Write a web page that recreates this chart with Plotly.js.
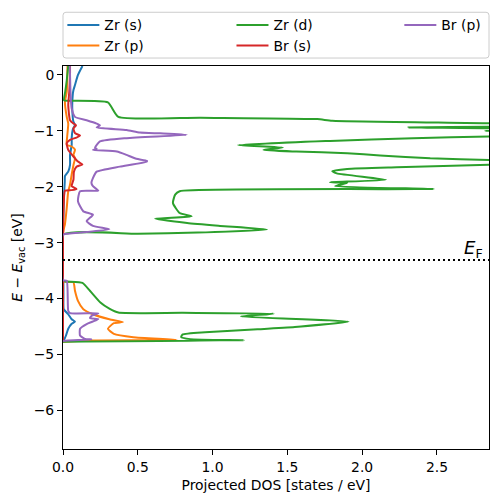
<!DOCTYPE html>
<html>
<head>
<meta charset="utf-8">
<script src="https://cdn.plot.ly/plotly-3.0.1.min.js"></script>
<style>html,body{margin:0;padding:0;background:#fff;}#chart{width:498px;height:502px;}</style>
</head>
<body>
<div id="chart"></div>
<script>
// ---- data (energy in eV relative to vacuum, DOS in states/eV) ----
const seriesNames = ["Zr (s)", "Zr (p)", "Zr (d)", "Br (s)", "Br (p)"];
const seriesColors = ["#1f77b4", "#ff7f0e", "#2ca02c", "#d62728", "#9467bd"];
const legendIds = ["legend", "legend2", "legend3", "legend4", "legend5"];
const fermiLevel = -3.31;

// Zr (s)
const zrS_E   = [-4.77, -4.75, -4.66, -4.54, -4.45, -4.41, -4.37, -4.28, -4.19, -4.0, -3.8, -3.68, -3.66,
                 -2.86, -2.5, -2.2, -1.9, -1.81, -1.73, -1.61, -1.43, -1.25, -1.13, -0.98, -0.89, -0.84, -0.6, -0.36, -0.27, -0.18, 0.0, 0.16];
const zrS_dos = [0.0, 0.005, 0.02, 0.035, 0.058, 0.08, 0.058, 0.035, 0.005, 0.003, 0.003, 0.002, 0.0,
                 0.0, 0.003, 0.006, 0.012, 0.013, 0.035, 0.047, 0.047, 0.058, 0.058, 0.065, 0.08, 0.07, 0.062, 0.065, 0.07, 0.08, 0.10, 0.13];

// Zr (p)
const zrP_E   = [-4.77, -4.75, -4.74, -4.69, -4.63, -4.54, -4.44, -4.42, -4.37, -4.28, -4.19, -4.04, -3.86, -3.71, -3.70, -3.68,
                 -2.86, -2.76, -2.67, -2.38, -2.08, -1.96, -1.78, -1.61, -1.49, -1.43, -1.34, -1.28, -1.25, -1.1, -0.87, -0.75, -0.48, -0.3, 0.16];
const zrP_dos = [0.0, 0.2, 0.76, 0.47, 0.34, 0.30, 0.34, 0.40, 0.31, 0.20, 0.136, 0.10, 0.08, 0.07, 0.025, 0.0,
                 0.0, 0.005, 0.013, 0.025, 0.035, 0.047, 0.058, 0.07, 0.08, 0.07, 0.08, 0.058, 0.025, 0.028, 0.035, 0.025, 0.013, 0.025, 0.03];

// Zr (d)
const zrD_E   = [-4.77, -4.745, -4.725, -4.69, -4.64, -4.60, -4.55, -4.51, -4.41, -4.32, -4.27, -4.255, -4.25, -4.18, -4.07, -3.86, -3.72, -3.69, -3.67,
                 -2.86, -2.84, -2.82, -2.765, -2.70, -2.65, -2.57, -2.53, -2.47, -2.29, -2.14, -2.08, -2.04,
                 -1.99, -1.93, -1.92, -1.875, -1.76, -1.72, -1.68, -1.65, -1.607, -1.565, -1.52, -1.49, -1.44, -1.40, -1.37, -1.34, -1.30, -1.255,
                 -1.18, -1.13, -1.10, -1.05, -1.00, -0.98, -0.955, -0.94, -0.925, -0.895, -0.866, -0.82, -0.79, -0.765, -0.75, -0.49, -0.46, -0.455, -0.3, -0.1, 0.16];
const zrD_dos = [0.0, 1.21, 0.85, 0.79, 0.80, 0.95, 1.30, 1.55, 1.91, 1.19, 1.41, 0.8, 0.37, 0.31, 0.25, 0.18, 0.13, 0.01, 0.0,
                 0.0, 0.5, 0.9, 1.364, 1.05, 0.83, 0.615, 0.86, 0.78, 0.735, 0.75, 0.78, 2.48,
                 1.82, 1.90, 1.785, 2.16, 1.83, 1.80, 1.90, 2.23, 2.85, 3.4, 2.85, 2.455, 2.12, 1.90, 1.56, 1.34, 1.47, 1.17,
                 1.785, 2.34, 2.85, 3.3, 2.82, 3.1, 2.85, 2.31, 2.85, 3.2, 2.85, 1.80, 1.70, 0.92, 0.37, 0.30, 0.047, 0.007, 0.015, 0.025, 0.035];

// Br (s)
const brS_E   = [-4.77, -3.66, -2.86, -2.3, -2.07, -2.06, -2.04, -1.99, -1.87, -1.73, -1.64, -1.60, -1.55, -1.46, -1.34, -1.22, -1.16, -1.12, -1.085, -1.04,
                 -0.955, -0.90, -0.87, -0.81, -0.54, -0.30, 0.0, 0.16];
const brS_dos = [0.0, 0.0, 0.0, 0.005, 0.013, 0.058, 0.09, 0.058, 0.07, 0.073, 0.09, 0.13, 0.10, 0.07, 0.035, 0.025, 0.047, 0.09, 0.114, 0.08,
                 0.07, 0.087, 0.07, 0.047, 0.035, 0.042, 0.047, 0.047];

// Br (p)
const brP_E   = [-4.76, -4.75, -4.73, -4.72, -4.66, -4.54, -4.455, -4.41, -4.365, -4.35, -4.31, -4.265, -4.26, -4.22, -3.68, -3.67,
                 -2.86, -2.84, -2.82, -2.76, -2.70, -2.615, -2.50, -2.44, -2.26, -2.08, -2.07, -1.99, -1.93, -1.845, -1.73, -1.64, -1.55, -1.535,
                 -1.50, -1.43, -1.37, -1.34, -1.32, -1.30, -1.19, -1.13, -1.07, -1.045, -1.03, -0.985, -0.94, -0.90, -0.87, -0.81, -0.75, -0.60, -0.3, 0.0, 0.16];
const brP_dos = [0.0, 0.03, 0.19, 0.147, 0.114, 0.114, 0.158, 0.20, 0.236, 0.18, 0.19, 0.236, 0.047, 0.035, 0.025, 0.0,
                 0.0, 0.03, 0.114, 0.31, 0.20, 0.158, 0.20, 0.136, 0.10, 0.114, 0.236, 0.20, 0.19, 0.20, 0.225, 0.38, 0.56, 0.56,
                 0.49, 0.425, 0.36, 0.20, 0.225, 0.214, 0.247, 0.425, 0.827, 0.65, 0.515, 0.425, 0.225, 0.247, 0.225, 0.158, 0.08, 0.058, 0.05, 0.047, 0.045];

const energies = [zrS_E, zrP_E, zrD_E, brS_E, brP_E];
const dosValues = [zrS_dos, zrP_dos, zrD_dos, brS_dos, brP_dos];

const xTickVals = [0, 0.5, 1.0, 1.5, 2.0, 2.5];
const xTickText = ["0.0", "0.5", "1.0", "1.5", "2.0", "2.5"];
const yTickVals = [0, -1, -2, -3, -4, -5, -6];
const yTickText = ["0", "\u22121", "\u22122", "\u22123", "\u22124", "\u22125", "\u22126"];

// ---- build traces ----
const traces = seriesNames.map((name, i) => ({
  type: "scatter",
  mode: "lines",
  name: name,
  x: dosValues[i],
  y: energies[i],
  line: {color: seriesColors[i], width: 2, shape: "spline", smoothing: 0.5},
  legend: legendIds[i]
}));

const font = {family: "DejaVu Sans, sans-serif", size: 13.9, color: "#000"};

// legend entry placement (matplotlib-style 3-column expanded legend, column-major)
const colX = [-0.0015, 0.3955, 0.7895];
const rowY = [1.1478, 1.0943];
const entryPos = [[0, 0], [0, 1], [1, 0], [1, 1], [2, 0]];
function legendAt(c, r) {
  return {
    orientation: "v", xanchor: "left", yanchor: "top", x: colX[c], y: rowY[r],
    bgcolor: "rgba(0,0,0,0)", borderwidth: 0, itemwidth: 32,
    font: font
  };
}

// rounded legend frame path in paper coordinates
const fx0 = 0, fx1 = 1, fy0 = 1.0208, fy1 = 1.1403, rx = 0.007, ry = 0.0078;
const framePath = `M ${fx0 + rx},${fy1} L ${fx1 - rx},${fy1} Q ${fx1},${fy1} ${fx1},${fy1 - ry} L ${fx1},${fy0 + ry} Q ${fx1},${fy0} ${fx1 - rx},${fy0} L ${fx0 + rx},${fy0} Q ${fx0},${fy0} ${fx0},${fy0 + ry} L ${fx0},${fy1 - ry} Q ${fx0},${fy1} ${fx0 + rx},${fy1} Z`;

const layout = {
  width: 498, height: 502,
  margin: {l: 63, r: 9, t: 64, b: 53},
  paper_bgcolor: "#fff", plot_bgcolor: "#fff",
  font: font,
  showlegend: true,
  xaxis: {
    range: [0, 2.848], tickvals: xTickVals, ticktext: xTickText,
    ticks: "outside", ticklen: 5, tickwidth: 1, tickcolor: "#000",
    showline: true, mirror: true, linecolor: "#000", linewidth: 1,
    showgrid: false, zeroline: false, tickfont: font,
    title: {text: "Projected DOS [states / eV]", font: font, standoff: 6}
  },
  yaxis: {
    range: [-6.69, 0.16], tickvals: yTickVals, ticktext: yTickText,
    ticks: "outside", ticklen: 5, tickwidth: 1, tickcolor: "#000",
    showline: true, mirror: true, linecolor: "#000", linewidth: 1,
    showgrid: false, zeroline: false, tickfont: font,
    title: {text: "<i>E</i> \u2212 <i>E</i><sub>vac</sub> [eV]", font: font, standoff: 7}
  },
  shapes: [
    {
      type: "line", xref: "paper", x0: 0, x1: 1, yref: "y", y0: fermiLevel, y1: fermiLevel,
      line: {color: "#000", width: 2, dash: "2px,3px"}
    },
    {
      type: "path", xref: "paper", yref: "paper", path: framePath,
      line: {color: "#cccccc", width: 1}, fillcolor: "rgba(255,255,255,0.8)", layer: "below"
    }
  ],
  annotations: [{
    xref: "paper", x: 1, xanchor: "right", xshift: -4,
    yref: "y", y: fermiLevel, yanchor: "bottom", yshift: -3,
    text: "<i>E</i><sub>F</sub>", showarrow: false,
    font: {family: "DejaVu Sans, sans-serif", size: 18, color: "#000"}
  }]
};
legendIds.forEach((id, i) => { layout[id] = legendAt(entryPos[i][0], entryPos[i][1]); });

Plotly.newPlot("chart", traces, layout, {displayModeBar: false, staticPlot: true});
</script>
</body>
</html>
